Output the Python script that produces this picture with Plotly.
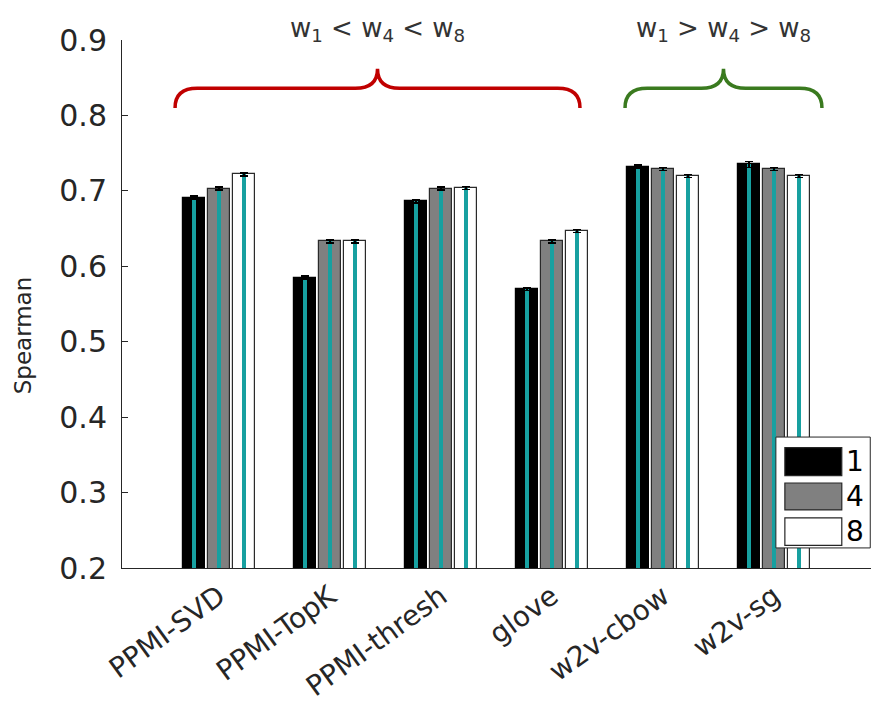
import plotly.graph_objects as go

categories = ["PPMI-SVD", "PPMI-TopK", "PPMI-thresh", "glove", "w2v-cbow", "w2v-sg"]
series_names = ["1", "4", "8"]
vals_w1 = [0.691, 0.585, 0.686, 0.570, 0.732, 0.735]
vals_w4 = [0.703, 0.633, 0.703, 0.633, 0.729, 0.729]
vals_w8 = [0.722, 0.633, 0.704, 0.647, 0.720, 0.720]
err_w1 = [0.002, 0.002, 0.002, 0.002, 0.002, 0.004]
err_w4 = [0.002, 0.002, 0.002, 0.002, 0.002, 0.002]
err_w8 = [0.002, 0.002, 0.002, 0.002, 0.002, 0.002]
yticks = [0.2, 0.3, 0.4, 0.5, 0.6, 0.7, 0.8, 0.9]
brace_labels = ["w<sub>1</sub> &lt; w<sub>4</sub> &lt; w<sub>8</sub>",
                "w<sub>1</sub> &gt; w<sub>4</sub> &gt; w<sub>8</sub>"]

values = [vals_w1, vals_w4, vals_w8]
errors = [err_w1, err_w4, err_w8]
fills = ["#000000", "#808080", "#ffffff"]
outlines = ["#000000", "#2a2a2a", "#2a2a2a"]
offsets = [-0.225, 0.0, 0.225]
teal = "#17a0a0"
txt = "#262626"
FONT = "DejaVu Sans, Liberation Sans, Arial, sans-serif"

fig = go.Figure()
xs_all = []
for k in range(3):
    xs = [i + 1 + offsets[k] for i in range(len(categories))]
    xs_all.append(xs)
    fig.add_trace(go.Bar(x=xs, y=values[k], width=0.19, name=series_names[k],
                         marker=dict(color=fills[k], line=dict(color=outlines[k], width=1.2)),
                         showlegend=False))
for k in range(3):
    fig.add_trace(go.Bar(x=xs_all[k], y=values[k], width=0.034,
                         marker=dict(color=teal, line=dict(width=0)),
                         error_y=dict(type="data", array=errors[k], color="black",
                                      thickness=1.5, width=4),
                         showlegend=False, hoverinfo="skip"))

# braces (data coords)
spans = [(0.604, 4.252, "#c00000"), (4.658, 6.432, "#3a7a1f")]
yb, ym, yt = 0.810, 0.836, 0.862
r = 0.2
for (x0, x1, col), lab in zip(spans, brace_labels):
    xc = (x0 + x1) / 2
    path = (f"M {x0},{yb} Q {x0},{ym} {x0 + r},{ym} L {xc - r},{ym} "
            f"Q {xc},{ym} {xc},{yt} Q {xc},{ym} {xc + r},{ym} L {x1 - r},{ym} "
            f"Q {x1},{ym} {x1},{yb}")
    fig.add_shape(type="path", path=path, xref="x", yref="y",
                  line=dict(color=col, width=3.5))
    fig.add_annotation(x=xc, y=1.02, xref="x", yref="paper", text=lab, showarrow=False,
                       font=dict(size=26, color="#333333", family=FONT),
                       xanchor="center", yanchor="middle")

# y axis label
fig.add_annotation(x=-0.132, y=0.441, xref="paper", yref="paper", text="Spearman",
                   textangle=-90, showarrow=False, xanchor="center", yanchor="middle",
                   font=dict(size=23, color=txt, family=FONT))

# custom legend (paper coords)
fig.add_shape(type="rect", xref="paper", yref="paper", x0=0.873, x1=0.999, y0=0.038, y1=0.248,
              fillcolor="white", line=dict(color="#262626", width=1), layer="above")
sw_y = [(0.175, 0.228), (0.110, 0.161), (0.043, 0.095)]
for k in range(3):
    fig.add_shape(type="rect", xref="paper", yref="paper", x0=0.885, x1=0.961,
                  y0=sw_y[k][0], y1=sw_y[k][1], fillcolor=fills[k],
                  line=dict(color="#262626", width=1.2), layer="above")
    fig.add_annotation(x=0.964, y=(sw_y[k][0] + sw_y[k][1]) / 2, xref="paper", yref="paper",
                       text=series_names[k], showarrow=False, xanchor="left", yanchor="middle",
                       font=dict(size=28, color="#000000", family=FONT))

fig.update_layout(
    width=885, height=727,
    margin=dict(l=122, r=14, t=40, b=159),
    plot_bgcolor="white", paper_bgcolor="white",
    barmode="overlay", bargap=0,
    font=dict(family=FONT, color=txt),
    showlegend=False,
)
fig.update_xaxes(range=[0.126, 6.874], tickvals=list(range(1, len(categories) + 1)),
                 ticktext=categories, tickangle=-36, showline=True, linecolor=txt,
                 linewidth=1, ticks="", showgrid=False, zeroline=False,
                 tickfont=dict(size=28, color=txt, family=FONT))
fig.update_yaxes(range=[0.2, 0.9], tickvals=yticks, ticktext=[f"{v:.1f}" for v in yticks],
                 ticks="inside", ticklen=6, tickcolor=txt, showline=True, linecolor=txt,
                 linewidth=1, showgrid=False, zeroline=False, ticklabelstandoff=8,
                 tickfont=dict(size=30, color=txt, family=FONT))
fig.write_html("out.html")
